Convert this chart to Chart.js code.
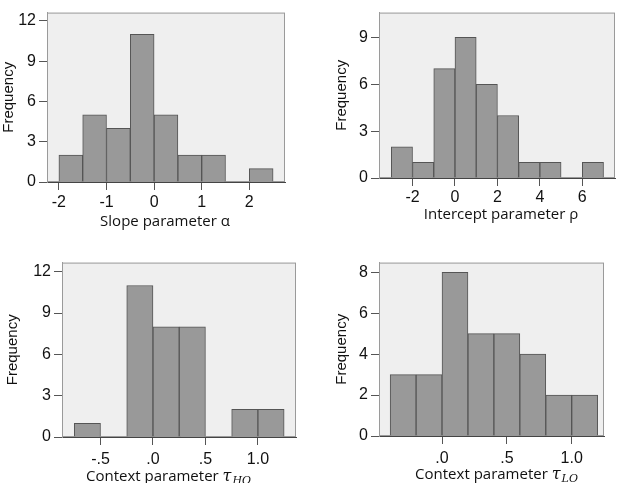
<!DOCTYPE html>
<html>
<head>
<meta charset="utf-8">
<script src="https://cdn.jsdelivr.net/npm/chart.js@4.4.0/dist/chart.umd.min.js"></script>
<style>
  html, body { margin: 0; padding: 0; background: #fff; }
  #page { position: relative; width: 617px; height: 483px; overflow: hidden; }
  .panel { position: absolute; }
  .panel canvas { display: block; }
</style>
</head>
<body>
<div id="page">
  <div class="panel" style="left:0;top:0"><canvas id="c1" width="300" height="230"></canvas></div>
  <div class="panel" style="left:300px;top:0"><canvas id="c2" width="317" height="230"></canvas></div>
  <div class="panel" style="left:0;top:250px"><canvas id="c3" width="300" height="233"></canvas></div>
  <div class="panel" style="left:300px;top:250px"><canvas id="c4" width="317" height="233"></canvas></div>
</div>
<script>
// ---- données ----
// pente alpha (classes de 0.5)
const slopeBins = [-1.75, -1.25, -0.75, -0.25, 0.25, 0.75, 1.25, 1.75, 2.25];
const slopeCounts = [2, 5, 4, 11, 5, 2, 2, 0, 1];
const slopeXTicks = [-2, -1, 0, 1, 2];
const slopeXLabels = ['-2', '-1', '0', '1', '2'];
const slopeYTicks = [0, 3, 6, 9, 12];

// ordonnée à l'origine rho (classes de 1)
const interceptBins = [-2.5, -1.5, -0.5, 0.5, 1.5, 2.5, 3.5, 4.5, 5.5, 6.5];
const interceptCounts = [2, 1, 7, 9, 6, 4, 1, 1, 0, 1];
const interceptXTicks = [-2, 0, 2, 4, 6];
const interceptXLabels = ['-2', '0', '2', '4', '6'];
const interceptYTicks = [0, 3, 6, 9];

// contexte tau_HO (classes de 0.25)
const tauHOBins = [-0.625, -0.375, -0.125, 0.125, 0.375, 0.625, 0.875, 1.125];
const tauHOCounts = [1, 0, 11, 8, 8, 0, 2, 2];
const tauHOXTicks = [-0.5, 0, 0.5, 1.0];
const tauHOXLabels = ['-.5', '.0', '.5', '1.0'];
const tauHOYTicks = [0, 3, 6, 9, 12];

// contexte tau_LO (classes de 0.2)
const tauLOBins = [-0.3, -0.1, 0.1, 0.3, 0.5, 0.7, 0.9, 1.1];
const tauLOCounts = [3, 3, 8, 5, 5, 4, 2, 2];
const tauLOXTicks = [0, 0.5, 1.0];
const tauLOXLabels = ['.0', '.5', '1.0'];
const tauLOYTicks = [0, 2, 4, 6, 8];

// ---- plugin : fond gris + cadre ----
const framePlugin = {
  id: 'frame',
  beforeDraw(chart) {
    const a = chart.chartArea;
    const ctx = chart.ctx;
    ctx.save();
    ctx.fillStyle = '#efefef';
    ctx.fillRect(a.left, a.top, a.right - a.left, a.bottom - a.top);
    ctx.strokeStyle = '#9a9a9a';
    ctx.lineWidth = 1;
    ctx.strokeRect(a.left + 0.5, a.top + 0.5, a.right - a.left - 1, a.bottom - a.top - 1);
    ctx.restore();
  }
};

// ---- plugin : titre de l'axe x (avec indice éventuel) ----
const xTitlePlugin = {
  id: 'xTitle',
  afterDraw(chart, args, opts) {
    const ctx = chart.ctx;
    const mainFont = '15px "Open Sans", sans-serif';
    const symFont = 'italic 16px "DejaVu Serif", serif';
    const subFont = 'italic 11px "DejaVu Serif", serif';
    ctx.save();
    ctx.fillStyle = '#111';
    ctx.textBaseline = 'middle';
    ctx.font = mainFont;
    const w1 = ctx.measureText(opts.text).width;
    let w2 = 0, w3 = 0;
    if (opts.sym) { ctx.font = symFont; w2 = ctx.measureText(opts.sym).width; }
    if (opts.sub) { ctx.font = subFont; w3 = ctx.measureText(opts.sub).width; }
    const total = w1 + w2 + w3;
    let x = opts.cx - total / 2;
    const y = chart.chartArea.bottom + opts.dy;
    ctx.textAlign = 'left';
    ctx.font = mainFont;
    ctx.fillText(opts.text, x, y);
    x += w1;
    if (opts.sym) { ctx.font = symFont; ctx.fillText(opts.sym, x, y); x += w2; }
    if (opts.sub) { ctx.font = subFont; ctx.fillText(opts.sub, x + 1, y + 4); }
    ctx.restore();
  }
};

function makeHist(id, cfg) {
  const points = cfg.bins.map((b, i) => ({ x: b, y: cfg.counts[i] }));
  return new Chart(document.getElementById(id), {
    type: 'bar',
    data: {
      datasets: [{
        data: points,
        backgroundColor: '#999999',
        borderColor: '#555555',
        borderWidth: 1,
        borderSkipped: 'bottom',
        barPercentage: 1,
        categoryPercentage: 1
      }]
    },
    options: {
      responsive: false,
      animation: false,
      layout: { padding: cfg.padding },
      plugins: {
        legend: { display: false },
        tooltip: { enabled: false },
        xTitle: { text: cfg.title, sym: cfg.sym, sub: cfg.sub, cx: cfg.titleX, dy: cfg.titleDy }
      },
      scales: {
        x: {
          type: 'linear',
          offset: false,
          min: cfg.xMin,
          max: cfg.xMax,
          afterBuildTicks: s => { s.ticks = cfg.xTicks.map(v => ({ value: v })); },
          afterFit: s => { s.height = cfg.xAxisH; },
          grid: { offset: false, drawOnChartArea: false, drawTicks: true, tickLength: 8, color: '#555' },
          border: { display: true, color: '#444', width: 1 },
          ticks: {
            autoSkip: false,
            maxRotation: 0,
            padding: cfg.xTickPad,
            color: '#111',
            font: { family: '"Liberation Sans", Arial, sans-serif', size: 16 },
            callback: (v, i) => cfg.xLabels[i]
          }
        },
        y: {
          min: 0,
          max: cfg.yMax,
          afterBuildTicks: s => { s.ticks = cfg.yTicks.map(v => ({ value: v })); },
          afterFit: s => { s.width = cfg.yAxisW; },
          grid: { drawOnChartArea: false, drawTicks: true, tickLength: 8, color: '#555' },
          border: { display: true, color: '#9a9a9a', width: 1 },
          ticks: {
            autoSkip: false,
            padding: 3,
            color: '#111',
            font: { family: '"Liberation Sans", Arial, sans-serif', size: 16 }
          },
          title: {
            display: true,
            text: 'Frequency',
            color: '#111',
            padding: { top: 0, bottom: 0 },
            font: { family: '"Liberation Sans", Arial, sans-serif', size: 15 }
          }
        }
      }
    },
    plugins: [framePlugin, xTitlePlugin]
  });
}

makeHist('c1', {
  bins: slopeBins, counts: slopeCounts,
  xTicks: slopeXTicks, xLabels: slopeXLabels, yTicks: slopeYTicks,
  xMin: -2.25, xMax: 2.75, yMax: 12.62,
  padding: { left: 0, right: 15, top: 0, bottom: 0 },
  yAxisW: 47, xAxisH: 48, xTickPad: 3,
  title: 'Slope parameter α', titleX: 165, titleDy: 40
});

makeHist('c2', {
  bins: interceptBins, counts: interceptCounts,
  xTicks: interceptXTicks, xLabels: interceptXLabels, yTicks: interceptYTicks,
  xMin: -3.58, xMax: 7.54, yMax: 10.59,
  padding: { left: 33, right: 2, top: 0, bottom: 0 },
  yAxisW: 46, xAxisH: 52, xTickPad: 2,
  title: 'Intercept parameter ρ', titleX: 201, titleDy: 37
});

makeHist('c3', {
  bins: tauHOBins, counts: tauHOCounts,
  xTicks: tauHOXTicks, xLabels: tauHOXLabels, yTicks: tauHOYTicks,
  xMin: -0.867, xMax: 1.363, yMax: 12.66,
  padding: { left: 4, right: 4, top: 9, bottom: 0 },
  yAxisW: 58, xAxisH: 46, xTickPad: 5,
  title: 'Context parameter ', sym: 'τ', sub: 'HO', titleX: 168, titleDy: 40
});

makeHist('c4', {
  bins: tauLOBins, counts: tauLOCounts,
  xTicks: tauLOXTicks, xLabels: tauLOXLabels, yTicks: tauLOYTicks,
  xMin: -0.486, xMax: 1.249, yMax: 8.47,
  padding: { left: 33, right: 13, top: 9, bottom: 0 },
  yAxisW: 46, xAxisH: 47, xTickPad: 5,
  title: 'Context parameter ', sym: 'τ', sub: 'LO', titleX: 196, titleDy: 39
});
</script>
</body>
</html>
